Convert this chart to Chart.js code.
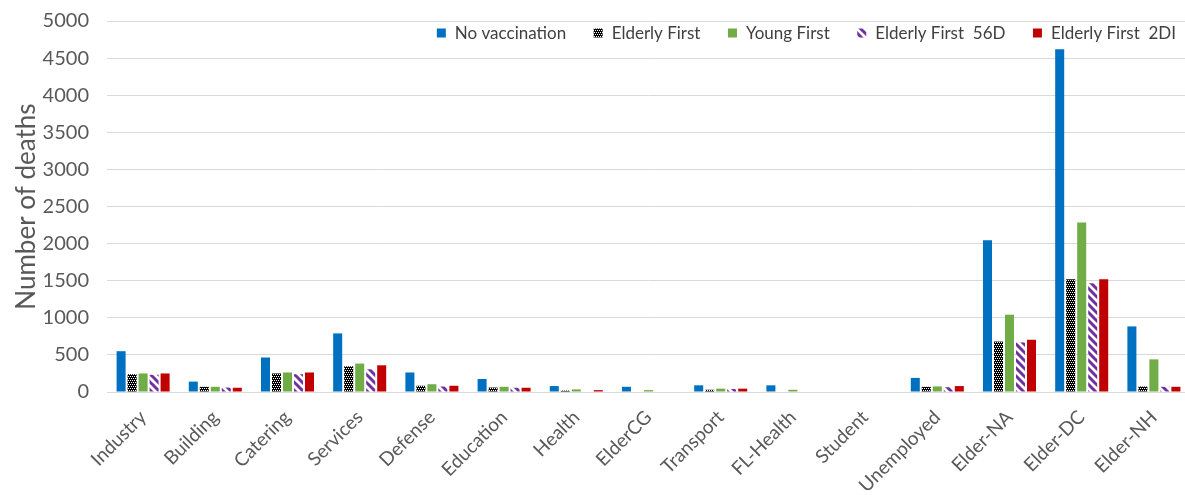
<!DOCTYPE html>
<html lang="en">
<head>
    <meta charset="UTF-8">
    <title>Number of deaths by group</title>
    <script src="https://cdn.jsdelivr.net/npm/chart.js"></script>
    <style>
        html, body {
            margin: 0;
            padding: 0;
            background: #ffffff;
            overflow: hidden;
        }

        .chart-box {
            width: 1190px;
            height: 495px;
        }
    </style>
</head>
<body>
    <div class="chart-box">
        <canvas id="deathsChart"></canvas>
    </div>

    <script>
        // categories and series
        const groups = ['Industry', 'Building', 'Catering', 'Services', 'Defense', 'Education', 'Health',
            'ElderCG', 'Transport', 'FL-Health', 'Student', 'Unemployed', 'Elder-NA', 'Elder-DC', 'Elder-NH'];

        const noVaccination = [550, 140, 465, 790, 263, 175, 80, 70, 90, 90, 0, 190, 2045, 4620, 884];
        const elderlyFirst = [240, 70, 250, 347, 84, 60, 20, 0, 30, 0, 0, 70, 680, 1518, 74];
        const youngFirst = [250, 70, 263, 383, 105, 70, 35, 25, 45, 30, 0, 75, 1042, 2285, 440];
        const elderlyFirst56D = [232, 60, 240, 306, 74, 57, 0, 0, 40, 0, 0, 65, 668, 1464, 70];
        const elderlyFirst2DI = [250, 57, 263, 360, 84, 57, 25, 0, 45, 0, 0, 80, 704, 1518, 70];

        const seriesNames = ['No vaccination', 'Elderly First', 'Young First', 'Elderly First  56D', 'Elderly First  2DI'];

        const yMax = 5000;
        const yStep = 500;

        const FONT = 'Lato, "Open Sans", sans-serif';
        const TEXT_GREY = '#595959';

        // little checker tile for the "Elderly First" bars
        function checkerPattern() {
            const c = document.createElement('canvas');
            c.width = 4;
            c.height = 4;
            const g = c.getContext('2d');
            g.fillStyle = '#000000';
            g.fillRect(0, 0, 4, 4);
            g.fillStyle = '#ffffff';
            g.fillRect(0, 0, 1, 1);
            g.fillRect(2, 0, 1, 1);
            g.fillRect(1, 2, 1, 1);
            g.fillRect(3, 2, 1, 1);
            return g.createPattern(c, 'repeat');
        }

        // purple / white diagonal stripes for "Elderly First 56D"
        function stripePattern() {
            const c = document.createElement('canvas');
            c.width = 8;
            c.height = 8;
            const g = c.getContext('2d');
            g.fillStyle = '#ffffff';
            g.fillRect(0, 0, 8, 8);
            g.strokeStyle = '#7030A0';
            g.lineWidth = 3;
            g.beginPath();
            g.moveTo(-2, -2); g.lineTo(10, 10);
            g.moveTo(-6, 2); g.lineTo(2, 10);
            g.moveTo(6, -2); g.lineTo(10, 2);
            g.stroke();
            return g.createPattern(c, 'repeat');
        }

        const fills = ['#0070C0', checkerPattern(), '#70AD47', stripePattern(), '#C00000'];
        const values = [noVaccination, elderlyFirst, youngFirst, elderlyFirst56D, elderlyFirst2DI];

        // legend drawn inside the plot, top right, like the original
        const insideLegend = {
            id: 'insideLegend',
            afterDraw(chart) {
                const ctx = chart.ctx;
                const box = 9;
                const gapText = 9;
                const gapItem = 27.5;
                ctx.save();
                ctx.font = '17px ' + FONT;
                ctx.textBaseline = 'middle';
                ctx.textAlign = 'left';
                const widths = chart.data.datasets.map(ds => ctx.measureText(ds.label).width);
                let total = 0;
                widths.forEach((w, i) => {
                    total += box + gapText + w + (i < widths.length - 1 ? gapItem : 0);
                });
                let x = 1176 - total;
                const y = 33;
                chart.data.datasets.forEach((ds, i) => {
                    ctx.fillStyle = ds.backgroundColor;
                    ctx.fillRect(x, y - box / 2, box, box);
                    x += box + gapText;
                    ctx.fillStyle = '#404040';
                    ctx.fillText(ds.label, x, y + 1);
                    x += widths[i] + gapItem;
                });
                ctx.restore();
            }
        };

        const ctx = document.getElementById('deathsChart').getContext('2d');
        const chart = new Chart(ctx, {
            type: 'bar',
            data: {
                labels: groups,
                datasets: seriesNames.map((name, i) => ({
                    label: name,
                    data: values[i],
                    backgroundColor: fills[i],
                    borderWidth: 0,
                    categoryPercentage: 0.762,
                    barPercentage: 0.82
                }))
            },
            options: {
                responsive: true,
                maintainAspectRatio: false,
                animation: false,
                layout: {
                    padding: { top: 21, right: 0, bottom: 0, left: 0 }
                },
                scales: {
                    x: {
                        grid: { display: false, drawTicks: false },
                        border: { display: true, color: '#D9D9D9', width: 1 },
                        ticks: {
                            minRotation: 45,
                            maxRotation: 45,
                            autoSkip: false,
                            padding: 14,
                            color: TEXT_GREY,
                            font: { family: FONT, size: 19 }
                        },
                        afterFit: (scale) => { scale.height = 103; }
                    },
                    y: {
                        min: 0,
                        max: yMax,
                        grid: { color: '#D9D9D9', drawTicks: false },
                        border: { display: false },
                        ticks: {
                            stepSize: yStep,
                            padding: 18,
                            color: TEXT_GREY,
                            font: { family: FONT, size: 20 },
                            callback: (v) => String(v)
                        },
                        title: {
                            display: true,
                            text: 'Number of deaths',
                            color: TEXT_GREY,
                            font: { family: FONT, size: 26 },
                            padding: { top: 11, bottom: 0 }
                        },
                        afterFit: (scale) => {
                            scale.width = 107;
                            // tick padding would otherwise push the plot top down
                            scale.paddingTop = 0;
                            scale.paddingBottom = 0;
                        }
                    }
                },
                plugins: {
                    legend: { display: false },
                    tooltip: { enabled: false }
                }
            },
            plugins: [insideLegend]
        });
    </script>
</body>
</html>
